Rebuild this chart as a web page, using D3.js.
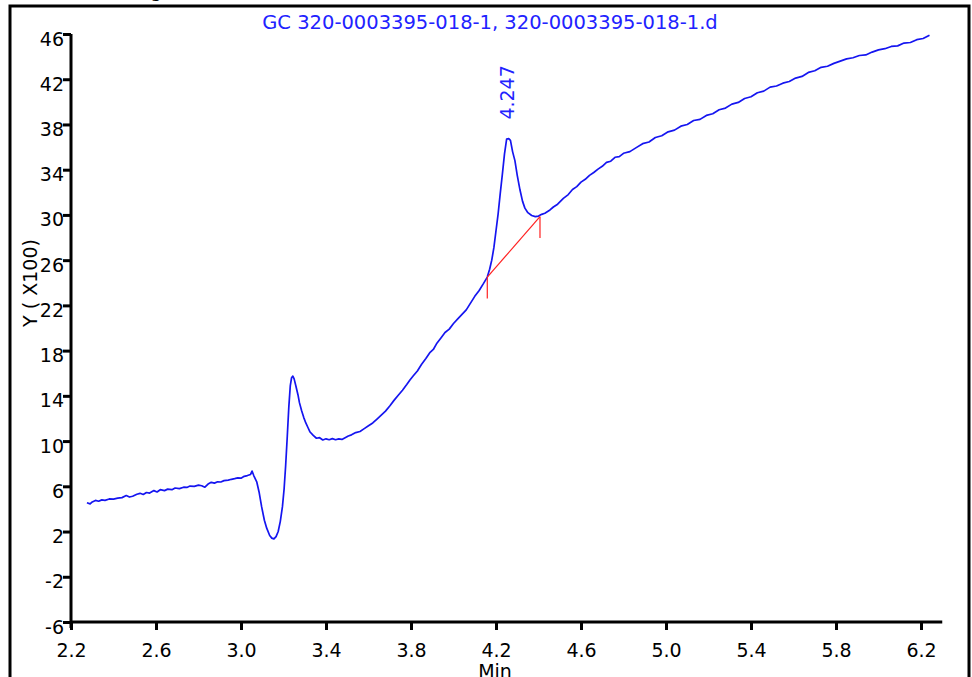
<!DOCTYPE html>
<html><head><meta charset="utf-8">
<script src="https://cdn.jsdelivr.net/npm/d3@7"></script>
<style>html,body{margin:0;padding:0;background:#fff;overflow:hidden}svg{display:block}</style>
</head><body>
<script>
const times = [2.275,2.29,2.30,2.315,2.33,2.345,2.36,2.38,2.40,2.42,2.44,2.46,2.475,2.49,2.51,2.525,2.54,2.555,2.57,2.59,2.605,2.62,2.64,2.655,2.675,2.69,2.71,2.73,2.745,2.76,2.78,2.80,2.815,2.83,2.845,2.86,2.875,2.89,2.905,2.92,2.94,2.955,2.97,2.985,3.00,3.015,3.03,3.045,3.052,3.06,3.074,3.085,3.097,3.11,3.121,3.135,3.145,3.155,3.165,3.175,3.185,3.195,3.203,3.21,3.218,3.225,3.232,3.238,3.244,3.25,3.258,3.268,3.275,3.285,3.295,3.305,3.315,3.325,3.34,3.355,3.37,3.385,3.40,3.415,3.43,3.445,3.46,3.475,3.49,3.505,3.52,3.54,3.56,3.58,3.60,3.62,3.64,3.66,3.68,3.70,3.72,3.74,3.76,3.78,3.795,3.81,3.83,3.85,3.87,3.89,3.905,3.92,3.94,3.96,3.98,4.00,4.02,4.04,4.06,4.08,4.10,4.12,4.14,4.159,4.17,4.18,4.19,4.20,4.21,4.22,4.23,4.24,4.25,4.26,4.268,4.278,4.289,4.30,4.313,4.325,4.336,4.35,4.368,4.385,4.40,4.415,4.43,4.454,4.47,4.49,4.517,4.54,4.56,4.58,4.60,4.62,4.64,4.66,4.68,4.70,4.72,4.74,4.76,4.78,4.80,4.83,4.86,4.89,4.92,4.95,4.98,5.01,5.04,5.07,5.10,5.13,5.16,5.19,5.22,5.25,5.28,5.31,5.34,5.37,5.40,5.43,5.46,5.49,5.52,5.55,5.58,5.61,5.64,5.67,5.70,5.73,5.76,5.79,5.82,5.85,5.88,5.91,5.94,5.97,6.00,6.03,6.06,6.09,6.12,6.15,6.18,6.21,6.24];
const signal = [4.55,4.45,4.62,4.75,4.68,4.80,4.76,4.88,4.86,4.95,5.00,5.18,5.05,5.12,5.30,5.38,5.28,5.45,5.40,5.62,5.50,5.70,5.62,5.75,5.70,5.85,5.80,5.92,5.90,6.02,6.00,6.10,6.05,5.92,6.20,6.35,6.28,6.40,6.38,6.50,6.55,6.62,6.68,6.75,6.72,6.88,6.95,7.05,7.35,6.95,6.40,5.50,4.20,3.00,2.30,1.65,1.42,1.35,1.55,2.00,2.90,4.20,5.80,7.80,10.5,13.0,14.9,15.6,15.75,15.5,14.9,14.1,13.4,12.7,12.1,11.6,11.2,10.8,10.5,10.25,10.3,10.1,10.2,10.12,10.22,10.12,10.2,10.15,10.3,10.45,10.55,10.75,10.85,11.1,11.35,11.6,11.95,12.3,12.65,13.1,13.6,14.05,14.5,15.0,15.4,15.75,16.2,16.8,17.3,17.85,18.1,18.6,19.1,19.6,19.9,20.4,20.8,21.2,21.6,22.2,22.8,23.3,23.9,24.5,25.2,26.0,27.1,28.6,30.1,31.9,33.6,35.4,36.7,36.75,36.6,35.6,34.8,33.5,32.2,31.2,30.6,30.2,29.95,29.85,29.9,30.05,30.15,30.44,30.7,30.95,31.47,31.8,32.25,32.5,32.9,33.15,33.5,33.75,34.05,34.3,34.65,34.75,35.1,35.15,35.45,35.6,35.95,36.3,36.45,36.85,37.0,37.35,37.5,37.85,38.0,38.35,38.45,38.8,38.95,39.3,39.45,39.8,39.95,40.3,40.45,40.8,40.95,41.3,41.4,41.65,41.8,42.1,42.25,42.6,42.75,43.05,43.15,43.4,43.6,43.8,43.9,44.1,44.15,44.4,44.6,44.7,44.9,44.95,45.2,45.25,45.5,45.6,45.9];
const xTicks = [2.2,2.6,3.0,3.4,3.8,4.2,4.6,5.0,5.4,5.8,6.2];
const yTicks = [-6,-2,2,6,10,14,18,22,26,30,34,38,42,46];
const baselineTimes = [4.159, 4.407];
const baselineValues = [24.5, 29.85];
const peakTime = 4.247, peakValue = 36.75, peakLabel = "4.247";
const titleText = "GC 320-0003395-018-1, 320-0003395-018-1.d";

const W = 972, H = 677;
const FONT = "'DejaVu Sans', sans-serif";
const svg = d3.select("body").append("svg").attr("width", W).attr("height", H)
  .style("font-family", FONT);

// outer frame
svg.append("rect").attr("x", 10).attr("y", 6).attr("width", 959).attr("height", 700)
  .attr("fill", "none").attr("stroke", "#000").attr("stroke-width", 3);
svg.append("text").attr("x", 133).attr("y", -3).attr("font-size", 19).text("Signal");

const x = d3.scaleLinear().domain([2.2, 6.3]).range([71, 942.25]);
const y = d3.scaleLinear().domain([-6, 46]).range([622, 34]);

// title
svg.append("text").attr("x", 490).attr("y", 29).attr("text-anchor", "middle")
  .attr("font-size", 19.5).attr("fill", "#2222ff").text(titleText);

// axes
const xAxis = svg.append("g").attr("transform", `translate(0,${y(-6)})`)
  .call(d3.axisBottom(x).tickValues(xTicks).tickFormat(d3.format(".1f")).tickSize(8).tickSizeOuter(0).tickPadding(14));
const yAxis = svg.append("g").attr("transform", `translate(${x(2.2)},0)`)
  .call(d3.axisLeft(y).tickValues(yTicks).tickFormat(d => String(d)).tickSize(8).tickSizeOuter(0).tickPadding(0));
[xAxis, yAxis].forEach(g => {
  g.select(".domain").attr("stroke-width", 3);
  g.selectAll(".tick line").attr("stroke-width", 3);
  g.selectAll("text").attr("font-size", 19).attr("font-family", FONT).attr("fill", "#000");
});
yAxis.selectAll(".tick text").attr("dy", "0.58em").attr("x", -7);
xAxis.select(".domain").attr("d", `M${x(2.2)},0H${x(6.3)}`);
yAxis.select(".domain").attr("d", `M0,${y(46)}V${y(-6) + 6}`);

// axis titles
svg.append("text").attr("transform", `translate(37,${283}) rotate(-90)`).attr("text-anchor", "middle")
  .attr("font-size", 19).text("Y ( X100)");
svg.append("text").attr("x", 495).attr("y", 678).attr("text-anchor", "middle")
  .attr("font-size", 19).text("Min");

// signal line
const pts = times.map((t, i) => [t, signal[i]]);
svg.append("path").datum(pts)
  .attr("d", d3.line().x(d => x(d[0])).y(d => y(d[1])))
  .attr("fill", "none").attr("stroke", "#1515f0").attr("stroke-width", 1.7).attr("stroke-linejoin", "round");

// baseline
svg.append("line").attr("x1", x(baselineTimes[0])).attr("y1", y(baselineValues[0]))
  .attr("x2", x(baselineTimes[1])).attr("y2", y(baselineValues[1])).attr("stroke", "#ff2020").attr("stroke-width", 1.2);
baselineTimes.forEach((t, i) => {
  svg.append("line").attr("x1", x(t)).attr("x2", x(t)).attr("y1", y(baselineValues[i]))
    .attr("y2", y(baselineValues[i] - 1.9)).attr("stroke", "#ff2020").attr("stroke-width", 1.2);
});

// peak label
svg.append("text").attr("transform", `translate(${x(peakTime) + 8},${y(peakValue) - 19}) rotate(-90)`)
  .attr("font-size", 19).attr("fill", "#2222ff").text(peakLabel);
</script>
</body></html>
